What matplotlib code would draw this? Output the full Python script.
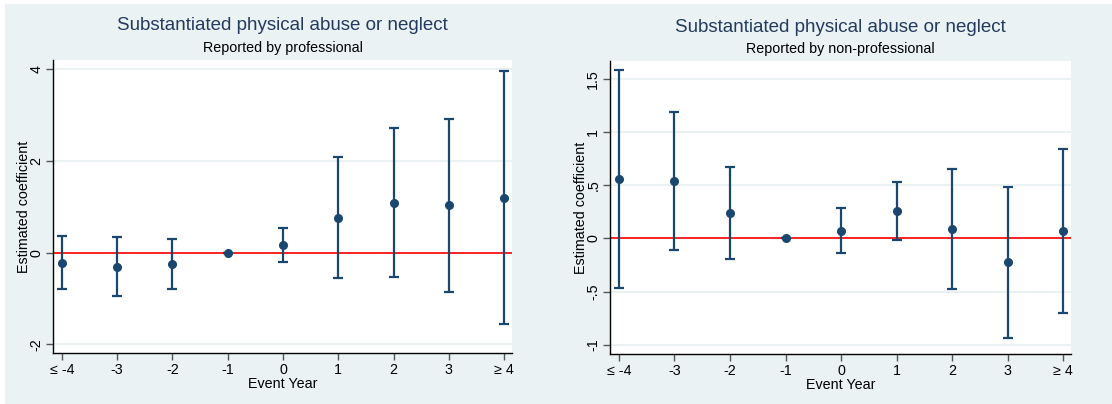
import matplotlib.pyplot as plt
from matplotlib.patches import Rectangle

plt.rcParams['font.family'] = ['Liberation Sans', 'DejaVu Sans']

event_years = [-4, -3, -2, -1, 0, 1, 2, 3, 4]
year_labels = ['\u2264 -4', '-3', '-2', '-1', '0', '1', '2', '3', '\u2265 4']

# reported by professional
prof_coef = [-0.22, -0.31, -0.25, 0.0, 0.16, 0.76, 1.08, 1.03, 1.19]
prof_lo = [-0.79, -0.95, -0.79, 0.0, -0.21, -0.56, -0.54, -0.86, -1.56]
prof_hi = [0.37, 0.33, 0.30, 0.0, 0.53, 2.09, 2.71, 2.92, 3.95]

# reported by non-professional
nonprof_coef = [0.555, 0.54, 0.238, 0.0, 0.072, 0.257, 0.091, -0.223, 0.069]
nonprof_lo = [-0.47, -0.107, -0.194, 0.0, -0.138, -0.019, -0.474, -0.935, -0.703]
nonprof_hi = [1.584, 1.186, 0.674, 0.0, 0.282, 0.533, 0.652, 0.486, 0.841]

prof_yticks = [-2, 0, 2, 4]
prof_ytick_labels = ['-2', '0', '2', '4']
nonprof_yticks = [-1, -0.5, 0, 0.5, 1, 1.5]
nonprof_ytick_labels = ['-1', '-.5', '0', '.5', '1', '1.5']

NAVY = '#1a476f'
TITLE = '#243a5e'
BG = '#eaf2f3'

fig = plt.figure(figsize=(11.12, 4.04), dpi=100, facecolor='white')
fig.patches.append(Rectangle((5 / 1112, 0), 1 - 5 / 1112, 400 / 404,
                             transform=fig.transFigure, facecolor=BG,
                             edgecolor='none', zorder=-10))

panels = [
    ([53 / 1112, 51 / 404, 459 / 1112, 293 / 404], 'Reported by professional',
     prof_coef, prof_lo, prof_hi, prof_yticks, prof_ytick_labels, (-2.19, 4.2)),
    ([610 / 1112, 50 / 404, 461 / 1112, 293 / 404], 'Reported by non-professional',
     nonprof_coef, nonprof_lo, nonprof_hi, nonprof_yticks, nonprof_ytick_labels, (-1.088, 1.67)),
]

for rect, subtitle, coef, lo, hi, yticks, ylabels, ylim in panels:
    ax = fig.add_axes(rect)
    ax.set_facecolor('white')
    err = [[c - l for c, l in zip(coef, lo)], [h - c for c, h in zip(coef, hi)]]
    ax.axhline(0, color='red', lw=1.2, zorder=2)
    ax.errorbar(event_years, coef, yerr=err, fmt='o', color=NAVY, ms=5.5,
                elinewidth=1.6, capsize=3.5, capthick=1.6, zorder=3)
    ax.set_xlim(-4.16, 4.14)
    ax.set_ylim(*ylim)
    ax.set_xticks(event_years)
    ax.set_xticklabels(year_labels, fontsize=10.3)
    ax.set_yticks(yticks)
    ax.set_yticklabels(ylabels, fontsize=10.3, rotation=90, va='center')
    ax.grid(axis='y', color=BG, lw=1.5)
    ax.set_axisbelow(True)
    for side in ['top', 'right']:
        ax.spines[side].set_visible(False)
    for side in ['left', 'bottom']:
        ax.spines[side].set_color('black')
        ax.spines[side].set_linewidth(1.0)
    ax.tick_params(direction='out', length=5, color='#555555', width=1)
    ax.tick_params(axis='y', pad=2)
    ax.tick_params(axis='x', pad=2)
    ax.set_xlabel('Event Year', fontsize=10.3, labelpad=0)
    ax.set_ylabel('Estimated coefficient', fontsize=10.3)
    ax.yaxis.set_label_coords(-22 / rect[2] / 1112, 0.5)
    ax.set_title(subtitle, fontsize=10.3, pad=6)
    ax.text(0.5, 1.0 + 34 / 293, 'Substantiated physical abuse or neglect',
            transform=ax.transAxes, ha='center', va='center', fontsize=13.5,
            color=TITLE)

fig.savefig('out.png', dpi=100, facecolor=fig.get_facecolor())
